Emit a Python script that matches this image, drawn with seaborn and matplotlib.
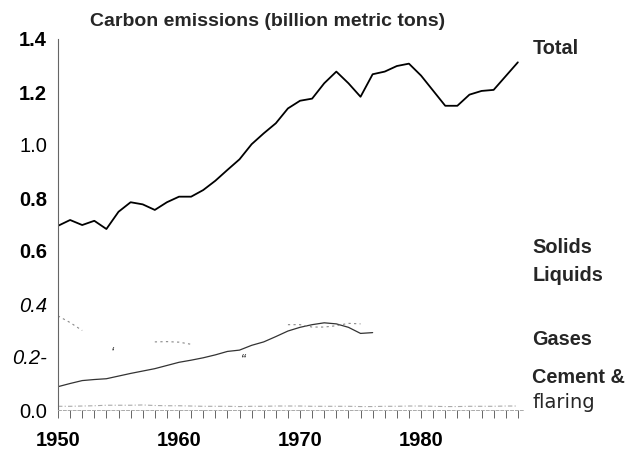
import numpy as np
import pandas as pd
import matplotlib
matplotlib.use("Agg")
import matplotlib.pyplot as plt
import seaborn as sns

years = list(range(1950, 1989))

total = [0.695, 0.717, 0.698, 0.714, 0.683, 0.748, 0.784, 0.776, 0.755, 0.784,
         0.805, 0.805, 0.830, 0.865, 0.906, 0.946, 1.003, 1.044, 1.082, 1.138,
         1.167, 1.175, 1.233, 1.277, 1.233, 1.182, 1.267, 1.277, 1.298, 1.307,
         1.262, 1.205, 1.148, 1.148, 1.190, 1.204, 1.208, 1.260, 1.312]

nan = np.nan
gases = [0.088, 0.100, 0.111, 0.115, 0.118, 0.128, 0.138, 0.147, 0.156, 0.168,
         0.180, 0.188, 0.197, 0.208, 0.221, 0.226, 0.244, 0.257, 0.277, 0.298,
         0.312, 0.322, 0.329, 0.325, 0.312, 0.289, 0.292, nan, nan, nan,
         nan, nan, nan, nan, nan, nan, nan, nan, nan]

solids = [0.355, 0.330, 0.300, nan, nan, nan, nan, nan, 0.257, 0.258,
          0.256, 0.248, nan, nan, nan, nan, nan, nan, nan, 0.322,
          0.322, 0.313, 0.313, 0.318, 0.327, 0.325, nan, nan, nan, nan,
          nan, nan, nan, nan, nan, nan, nan, nan, nan]

cement = [0.014, 0.014, 0.015, 0.016, 0.018, 0.018, 0.018, 0.019, 0.017, 0.016,
          0.016, 0.015, 0.014, 0.014, 0.014, 0.013, 0.014, 0.014, 0.015, 0.015,
          0.015, 0.014, 0.014, 0.014, 0.014, 0.013, 0.013, 0.014, 0.014, 0.015,
          0.015, 0.014, 0.013, 0.013, 0.014, 0.014, 0.014, 0.015, 0.015]

series_labels = ["Total", "Solids", "Liquids", "Gases", "Cement &", "flaring"]
label_y = [1.366, 0.615, 0.509, 0.265, 0.121, 0.028]

ytick_vals = [0.0, 0.2, 0.4, 0.6, 0.8, 1.0, 1.2, 1.4]
ytick_labels = ["0.0", "0.2-", "0.4", "0.6", "0.8", "1.0", "1.2", "1.4"]
xtick_vals = [1950, 1960, 1970, 1980]
xtick_labels = ["1950", "1960", "1970", "1980"]
title = "Carbon emissions (billion metric tons)"


def segments(vals):
    """Long frame of contiguous non-missing runs (gaps stay gaps)."""
    rows, seg, prev = [], 0, False
    for yr, v in zip(years, vals):
        ok = not np.isnan(v)
        if ok and not prev:
            seg += 1
        if ok:
            rows.append((yr, v, seg))
        prev = ok
    return pd.DataFrame(rows, columns=["year", "value", "seg"])


df = pd.DataFrame({"year": years, "total": total, "cement": cement})
gas_df = segments(gases)
sol_df = segments(solids)

sns.set_theme(style="white")
plt.rcParams['font.family'] = ['Liberation Sans', 'DejaVu Sans']

W, H = 635, 451
fig = plt.figure(figsize=(W / 100, H / 100), dpi=100)
ax = fig.add_axes([58 / W, 41 / H, 465.9 / W, 371 / H])

sns.lineplot(data=df, x="year", y="total", ax=ax, color="black", lw=1.3)
sns.lineplot(data=gas_df, x="year", y="value", units="seg", estimator=None,
             ax=ax, color="#333333", lw=0.9)
sns.lineplot(data=sol_df, x="year", y="value", units="seg", estimator=None,
             ax=ax, color="#888888", lw=0.8, linestyle=(0, (2, 3)))
sns.lineplot(data=df, x="year", y="cement", ax=ax, color="#aaaaaa", lw=0.8,
             linestyle=(0, (4, 2, 1, 2)))

ax.set_xlim(1950, 1988.5)
ax.set_ylim(0, 1.4)
ax.set_xlabel("")
ax.set_ylabel("")

for s in ["top", "right"]:
    ax.spines[s].set_visible(False)
ax.spines["left"].set_color("#666666")
ax.spines["left"].set_linewidth(0.8)
ax.spines["bottom"].set_color("#aaaaaa")
ax.spines["bottom"].set_linewidth(0.7)
ax.spines["bottom"].set_linestyle((0, (3, 2)))

ax.set_yticks(ytick_vals)
ax.set_yticklabels(ytick_labels)
ax.set_xticks(xtick_vals)
ax.set_xticklabels(xtick_labels)
ax.set_xticks(years, minor=True)

ax.tick_params(axis="y", which="major", direction="out", length=4, width=0.8,
               color="#666666", pad=4, labelsize=14.5)
ax.tick_params(axis="x", which="both", direction="out", length=6, width=0.7,
               color="#666666", pad=9, labelsize=14.5, bottom=True)
ax.tick_params(axis="x", which="minor", bottom=True)

styles = {"0.0": ("normal", "normal"), "0.2-": ("normal", "italic"),
          "0.4": ("normal", "italic"), "1.0": ("normal", "normal")}
for lab in ax.get_yticklabels():
    w, st = styles.get(lab.get_text(), ("bold", "normal"))
    lab.set_fontweight(w)
    lab.set_fontstyle(st)
    lab.set_color("black")
for lab in ax.get_xticklabels():
    lab.set_fontweight("bold")
    lab.set_color("black")

for txt, yv in zip(series_labels, label_y):
    if txt == "flaring":
        ax.text(1989.2, yv, txt, ha="left", va="center", fontsize=14,
                family="DejaVu Sans", clip_on=False)
    else:
        ax.text(1989.2, yv, txt, ha="left", va="center", fontsize=14.3,
                fontweight="bold", clip_on=False)

ax.text(1954.5, 0.216, "\u2018", ha="center", va="center", fontsize=10,
        fontstyle="italic", color="#222222")
ax.text(1965.3, 0.19, "\u201c", ha="center", va="center", fontsize=10,
        fontstyle="italic", color="#222222")

fig.text(90 / W, 1 - 22 / H, title, ha="left", va="center", fontsize=14,
         fontweight="bold")

fig.savefig("out.png", dpi=100)
